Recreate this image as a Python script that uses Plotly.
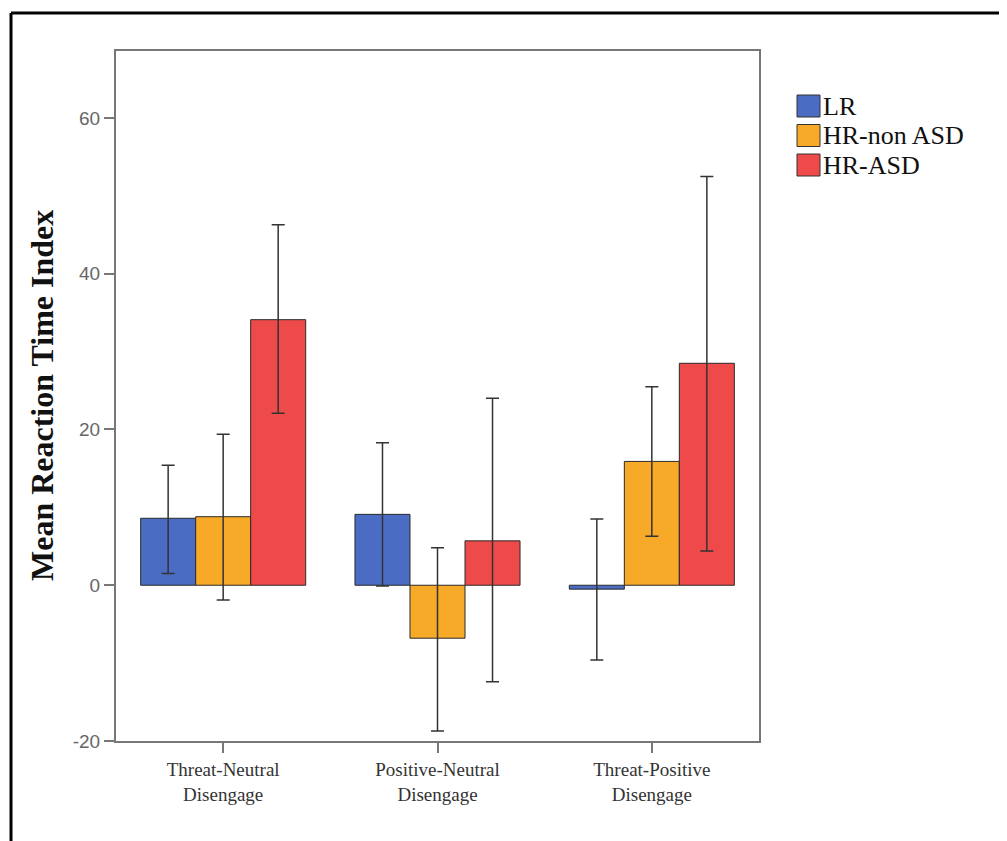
import plotly.graph_objects as go

categories = ["Threat-Neutral<br>Disengage", "Positive-Neutral<br>Disengage", "Threat-Positive<br>Disengage"]
series_names = ["LR", "HR-non ASD", "HR-ASD"]
lr_mean = [8.6, 9.1, -0.5]
lr_upper = [15.4, 18.3, 8.5]
lr_lower = [1.5, -0.1, -9.6]
hrn_mean = [8.8, -6.8, 15.9]
hrn_upper = [19.4, 4.8, 25.5]
hrn_lower = [-1.9, -18.7, 6.3]
hra_mean = [34.1, 5.7, 28.5]
hra_upper = [46.3, 24.0, 52.5]
hra_lower = [22.1, -12.4, 4.4]
y_ticks = [-20, 0, 20, 40, 60]
y_tick_labels = ["-20", "0", "20", "40", "60"]

colors = ["#4a6cc2", "#f7a928", "#ef4a4a"]
means = [lr_mean, hrn_mean, hra_mean]
uppers = [lr_upper, hrn_upper, hra_upper]
lowers = [lr_lower, hrn_lower, hra_lower]

OFF = 8  # page body margin
W, H = 1007 - OFF, 841 - OFF
L, R, T, B = 116 - OFF, 759 - OFF, 51 - OFF, 741 - OFF
pw, ph = R - L, B - T

def px(x):
    return (x - OFF - L) / pw

def py(y):
    return (B - (y - OFF)) / ph

fig = go.Figure()
for name, c, m, u, lo in zip(series_names, colors, means, uppers, lowers):
    fig.add_trace(go.Bar(
        x=categories, y=m, name=name,
        marker=dict(color=c, line=dict(color="#2a2a2a", width=1)),
        error_y=dict(type="data", symmetric=False,
                     array=[a - b for a, b in zip(u, m)],
                     arrayminus=[b - a for a, b in zip(lo, m)],
                     color="#333333", thickness=1.5, width=6.5),
        showlegend=False,
    ))

shapes = []
annotations = []
# outer frame
shapes.append(dict(type="line", xref="paper", yref="paper",
                   x0=px(11), x1=px(1012), y0=py(13), y1=py(13),
                   line=dict(color="black", width=3)))
shapes.append(dict(type="line", xref="paper", yref="paper",
                   x0=px(11), x1=px(11), y0=py(13), y1=py(850),
                   line=dict(color="black", width=3)))
# custom legend
for i, (name, c) in enumerate(zip(series_names, colors)):
    top = 95 + i * 29.5
    shapes.append(dict(type="rect", xref="paper", yref="paper",
                       x0=px(797), x1=px(820), y0=py(top + 22), y1=py(top),
                       fillcolor=c, line=dict(color="#333333", width=1)))
    annotations.append(dict(xref="paper", yref="paper", x=px(821), y=py(top + 11),
                            xanchor="left", yanchor="middle", showarrow=False,
                            text=name,
                            font=dict(family="Liberation Serif", size=26, color="#111111")))
# y axis title
annotations.append(dict(xref="paper", yref="paper", x=px(42), y=py(396),
                        xanchor="center", yanchor="middle", showarrow=False,
                        textangle=-90, text="<b>Mean Reaction Time Index</b>",
                        font=dict(family="Liberation Serif", size=32, color="#111111")))

fig.update_layout(
    width=W, height=H,
    margin=dict(l=L, r=W - R, t=T, b=H - B, autoexpand=False),
    paper_bgcolor="white", plot_bgcolor="white",
    barmode="group", bargap=0.23, bargroupgap=0,
    shapes=shapes, annotations=annotations,
    xaxis=dict(showline=True, linecolor="#777777", linewidth=2, mirror=True,
               ticks="outside", ticklen=10, tickcolor="#777777", tickwidth=1.5,
               showgrid=False, zeroline=False,
               tickfont=dict(family="Liberation Serif", size=19, color="#333333")),
    yaxis=dict(range=[-20, 68.6], tickvals=y_ticks, ticktext=y_tick_labels,
               showline=True, linecolor="#777777", linewidth=2, mirror=True,
               ticks="outside", ticklen=10, tickcolor="#777777", tickwidth=1.5,
               showgrid=False, zeroline=False,
               tickfont=dict(family="Liberation Sans", size=19, color="#666666")),
)

fig.write_html("out.html")
